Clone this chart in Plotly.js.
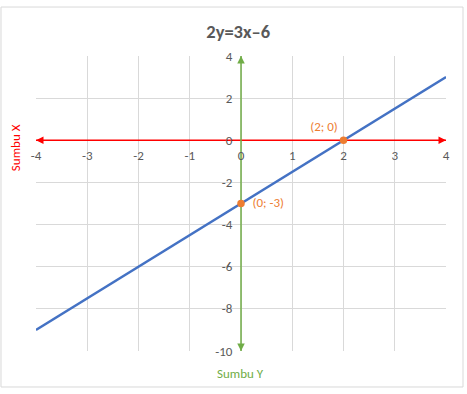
<!DOCTYPE html>
<html>
<head>
<meta charset="utf-8">
<script src="https://cdn.plot.ly/plotly-3.0.1.min.js"></script>
<style>html,body{margin:0;padding:0;background:#fff;}#chart{width:467px;height:394px;}</style>
</head>
<body>
<div id="chart"></div>
<script>
// Data
const lineX = [-4, 4];
const lineY = [-9, 3];
const pointX = [0, 2];
const pointY = [-3, 0];
const pointLabels = ['  (0; -3)', '(2; 0)'];
const pointLabelPos = ['middle right', 'top left'];
const xTickVals = [-4, -3, -2, -1, 0, 1, 2, 3, 4];
const xTickText = ['-4', '-3', '-2', '-1', '0', '1', '2', '3', '4'];
const yTickVals = [-10, -8, -6, -4, -2, 0, 2, 4];
const yTickText = ['-10', '-8', '-6', '-4', '-2', '0', '2', '4'];
const xAxisExtent = [-4, 4];
const yAxisExtent = [-10, 4];
const axisCross = [0, 0];

const FONT = 'Carlito, "Liberation Sans", Arial, sans-serif';
const RED = '#FF0000', GREEN = '#70AD47', BLUE = '#4472C4', ORANGE = '#ED7D31', GRAY = '#595959';

const traces = [
  {x: xAxisExtent, y: [axisCross[1], axisCross[1]], mode: 'lines', line: {color: RED, width: 1.5}, hoverinfo: 'skip', showlegend: false},
  {x: [axisCross[0], axisCross[0]], y: yAxisExtent, mode: 'lines', line: {color: GREEN, width: 1.5}, hoverinfo: 'skip', showlegend: false},
  {x: lineX, y: lineY, mode: 'lines', line: {color: BLUE, width: 2.25}, showlegend: false},
  {x: pointX, y: pointY, mode: 'markers+text', text: pointLabels, textposition: pointLabelPos,
   textfont: {color: ORANGE, size: 13, family: FONT}, marker: {color: ORANGE, size: 7.5}, cliponaxis: false, showlegend: false}
];

const xSpan = xAxisExtent[1] - xAxisExtent[0];
const ySpan = yAxisExtent[1] - yAxisExtent[0];
const dx = xSpan * 0.02, dy = ySpan * 0.02;
function head(x, y, ax, ay, color) {
  return {x: x, y: y, ax: ax, ay: ay, xref: 'x', yref: 'y', axref: 'x', ayref: 'y', text: '',
    showarrow: true, arrowhead: 2, arrowsize: 1, arrowwidth: 1.5, arrowcolor: color};
}
const annotations = [
  head(xAxisExtent[1], axisCross[1], xAxisExtent[1] - dx, axisCross[1], RED),
  head(xAxisExtent[0], axisCross[1], xAxisExtent[0] + dx, axisCross[1], RED),
  head(axisCross[0], yAxisExtent[1], axisCross[0], yAxisExtent[1] - dy, GREEN),
  head(axisCross[0], yAxisExtent[0], axisCross[0], yAxisExtent[0] + dy, GREEN),
  {xref: 'paper', yref: 'paper', x: -0.051, y: 0.688, xanchor: 'center', yanchor: 'middle', text: 'Sumbu X', textangle: -90, showarrow: false,
   font: {color: RED, size: 13, family: FONT}},
  {xref: 'paper', yref: 'paper', x: 0.4976, y: -0.0746, xanchor: 'center', yanchor: 'middle', text: 'Sumbu Y', showarrow: false,
   font: {color: GREEN, size: 13, family: FONT}}
];

const layout = {
  width: 467, height: 394,
  margin: {l: 36, r: 21, t: 56, b: 43},
  paper_bgcolor: '#fff', plot_bgcolor: '#fff',
  font: {family: FONT, color: GRAY, size: 13},
  title: {text: '2y=3x\u20136', x: 0.51, xanchor: 'center', y: 0.921, yanchor: 'middle', xref: 'container', yref: 'container',
          font: {family: FONT, size: 18.5, color: GRAY, weight: 'bold'}},
  xaxis: {range: xAxisExtent, tickvals: xTickVals, ticktext: xTickText, showgrid: true, gridcolor: '#D9D9D9', gridwidth: 1,
          zeroline: false, showline: false, anchor: 'free', position: (axisCross[1] - yAxisExtent[0]) / ySpan,
          ticks: 'outside', ticklen: 3, tickcolor: 'rgba(0,0,0,0)', tickfont: {size: 13, color: GRAY}, fixedrange: true},
  yaxis: {range: yAxisExtent, tickvals: yTickVals, ticktext: yTickText, showgrid: true, gridcolor: '#D9D9D9', gridwidth: 1,
          zeroline: false, showline: false, anchor: 'free', position: (axisCross[0] - xAxisExtent[0]) / xSpan,
          ticks: 'outside', ticklen: 6, tickcolor: 'rgba(0,0,0,0)', tickfont: {size: 13, color: GRAY}, fixedrange: true},
  annotations: annotations,
  shapes: [{type: 'rect', xref: 'paper', yref: 'paper', x0: -0.0854, x1: 1.0415, y0: -0.122, y1: 1.166,
            line: {color: '#D9D9D9', width: 1}, fillcolor: 'rgba(0,0,0,0)', layer: 'below'}]
};

Plotly.newPlot('chart', traces, layout, {displayModeBar: false, staticPlot: true});
</script>
</body>
</html>
